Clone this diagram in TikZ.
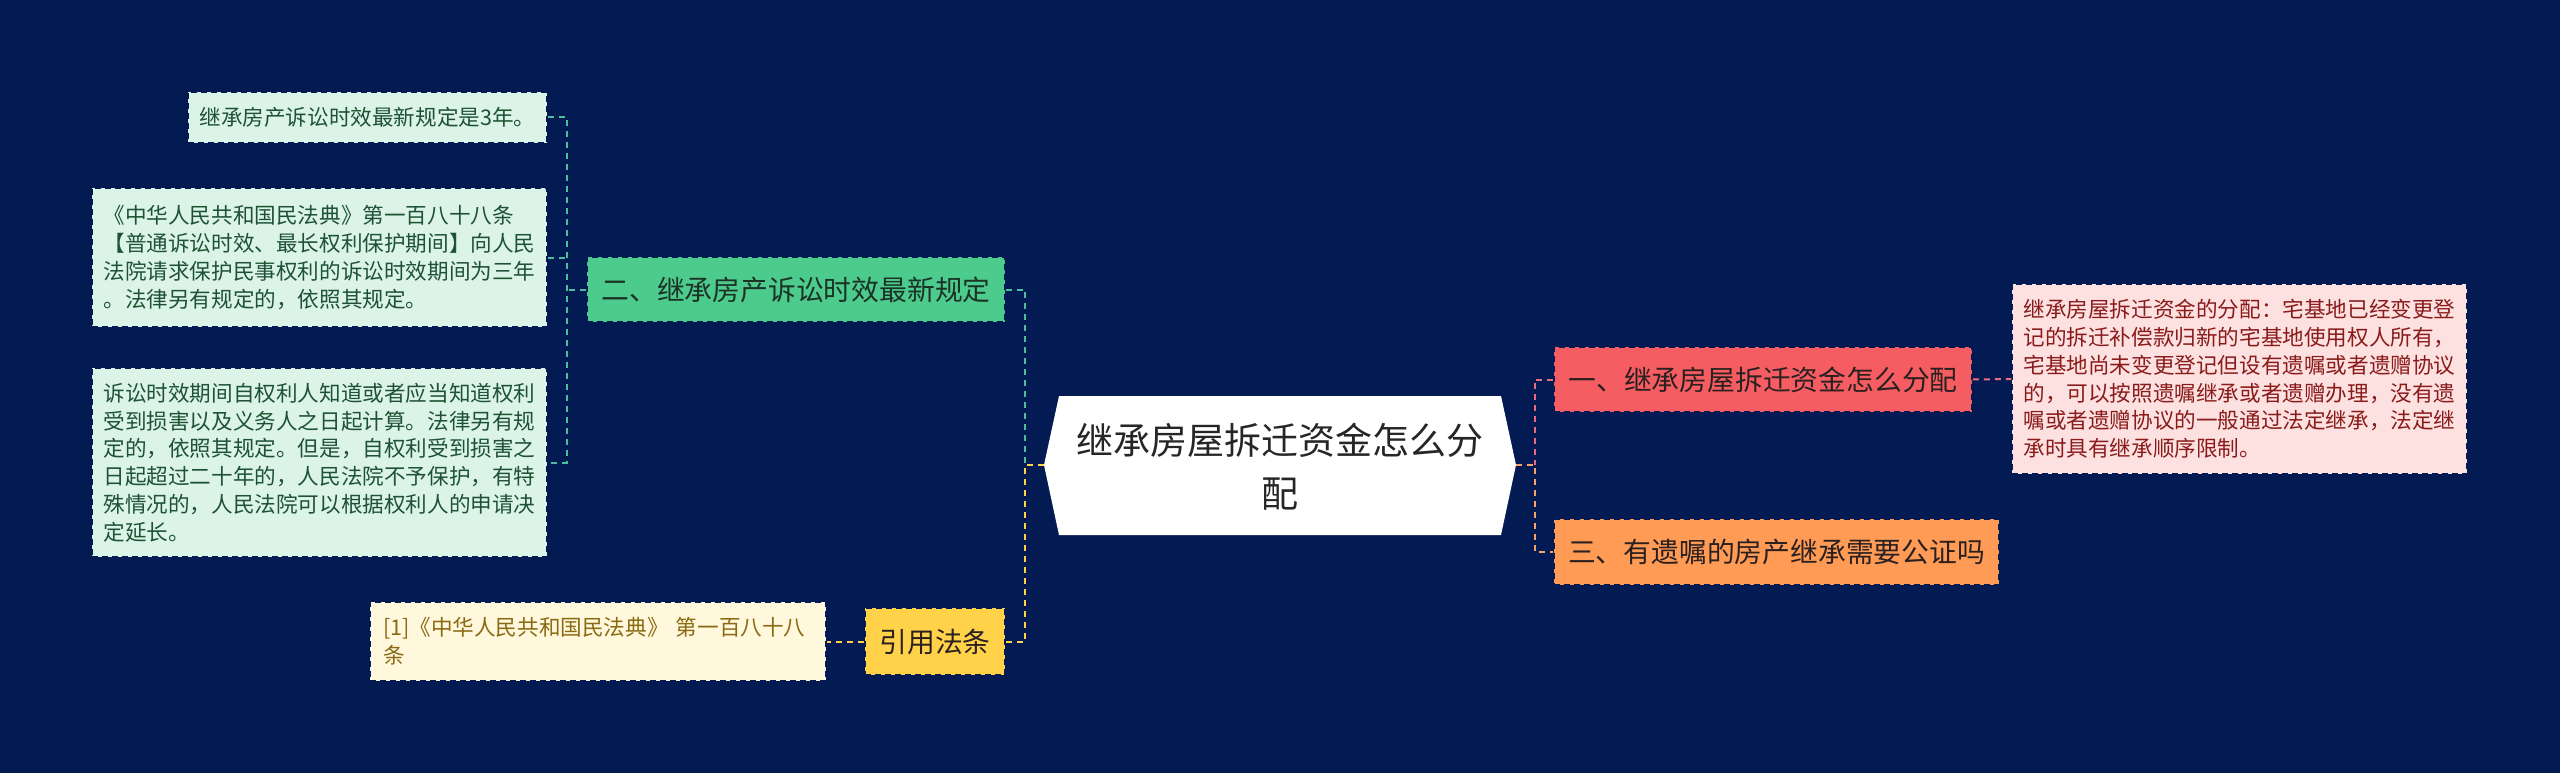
\documentclass[tikz,border=0pt]{standalone}
\usepackage{fontspec}
\setmainfont{Noto Sans CJK SC}
\usetikzlibrary{calc}
\definecolor{bg}{HTML}{031B52}
\definecolor{gbr}{HTML}{4CCB8C}
\definecolor{gleaf}{HTML}{DCF4E8}
\definecolor{gtext}{HTML}{1B3326}
\definecolor{gleaftext}{HTML}{1E5234}
\definecolor{gline}{HTML}{4DBE9C}
\definecolor{ybr}{HTML}{FFD24A}
\definecolor{yleaf}{HTML}{FFF8DD}
\definecolor{yleaftext}{HTML}{8A6A12}
\definecolor{rbr}{HTML}{F65D62}
\definecolor{pleaf}{HTML}{FDE1E1}
\definecolor{pleaftext}{HTML}{8A1B1B}
\definecolor{rline}{HTML}{E8707E}
\definecolor{obr}{HTML}{FF9B54}
\definecolor{oline}{HTML}{F4A46C}
\definecolor{dark}{HTML}{2A2020}
\tikzset{
  box/.style={rectangle, draw=bg, dash pattern=on 6pt off 4pt, line width=1.5pt, inner sep=0pt},
  branch/.style={box, minimum height=65pt, font=\fontsize{27.8}{32}\selectfont},
  leaf/.style={box, align=left, font=\fontsize{21.6}{27.8}\selectfont},
  conn/.style={line width=2pt, dash pattern=on 6pt off 5pt},
}
\begin{document}
\begin{tikzpicture}[x=1pt,y=-1pt]
\useasboundingbox (0,0) rectangle (2560,773);
\fill[bg] (0,0) rectangle (2560,773);

% center
\coordinate (cL) at (1044,465);
\coordinate (cR) at (1516,465);
\fill[white] (cL) -- (1059,396) -- (1501,396) -- (cR) -- (1501,535) -- (1059,535) -- cycle;
\node[align=center, font=\fontsize{37}{53}\selectfont, text=black!85] (c) at (1280,467) {继承房屋拆迁资金怎么分\\配};

% spines
\coordinate (spL) at (1025,465);
\coordinate (spR) at (1535,465);
\coordinate (gs) at (567,0);

% branches
\node[branch, fill=gbr, minimum width=418pt, text=gtext] (g) at (796,289.5) {二、继承房产诉讼时效最新规定};
\node[branch, fill=ybr, minimum width=140pt, minimum height=67pt, text=dark] (y) at (935,641.5) {引用法条};
\node[branch, fill=rbr, minimum width=418pt, text=dark] (r) at (1763,379.5) {一、继承房屋拆迁资金怎么分配};
\node[branch, fill=obr, minimum width=445pt, minimum height=66pt, text=dark] (o) at (1776.5,552) {三、有遗嘱的房产继承需要公证吗};

% leaves
\node[leaf, fill=gleaf, text=gleaftext, minimum width=359pt, minimum height=51pt] (l1) at (367.5,117.5) {继承房产诉讼时效最新规定是3年。};
\node[leaf, fill=gleaf, text=gleaftext, text width=432pt, minimum width=455pt, minimum height=139pt] (l2) at (319.5,257.5) {《中华人民共和国民法典》第一百八十八条\\【普通诉讼时效、最长权利保护期间】向人民\\法院请求保护民事权利的诉讼时效期间为三年\\。法律另有规定的，依照其规定。};
\node[leaf, fill=gleaf, text=gleaftext, text width=432pt, minimum width=455pt, minimum height=189pt] (l3) at (319.5,462.5) {诉讼时效期间自权利人知道或者应当知道权利\\受到损害以及义务人之日起计算。法律另有规\\定的，依照其规定。但是，自权利受到损害之\\日起超过二十年的，人民法院不予保护，有特\\殊情况的，人民法院可以根据权利人的申请决\\定延长。};
\node[leaf, fill=yleaf, text=yleaftext, text width=430pt, minimum width=456pt, minimum height=79pt] (ct) at (598,641.5) {[1]《中华人民共和国民法典》 第一百八十八\\条};
\node[leaf, fill=pleaf, text=pleaftext, text width=432pt, minimum width=455pt, minimum height=190pt] (pk) at (2239.5,379) {继承房屋拆迁资金的分配：宅基地已经变更登\\记的拆迁补偿款归新的宅基地使用权人所有，\\宅基地尚未变更登记但设有遗嘱或者遗赠协议\\的，可以按照遗嘱继承或者遗赠办理，没有遗\\嘱或者遗赠协议的一般通过法定继承，法定继\\承时具有继承顺序限制。};

% connectors: center to branches
\draw[conn, gline] (g.east) -- (g.east -| spL) -- (spL);
\draw[conn, ybr] (cL) -- (spL) -- (spL |- y.east) -- (y.east);
\draw[conn, rline] (r.west) -- (r.west -| spR) -- (spR);
\draw[conn, oline] (cR) -- (spR) -- (spR |- o.west) -- (o.west);

% connectors: branches to leaves
\draw[conn, gline] (l1.east) -- (l1.east -| gs) -- (l3.east -| gs) -- (l3.east);
\draw[conn, gline] (l2.east) -- (l2.east -| gs);
\draw[conn, gline] (g.west) -- (g.west -| gs);
\draw[conn, ybr] (y.west) -- (ct.east);
\draw[conn, rline] (r.east) -- (pk.west);
\end{tikzpicture}
\end{document}
